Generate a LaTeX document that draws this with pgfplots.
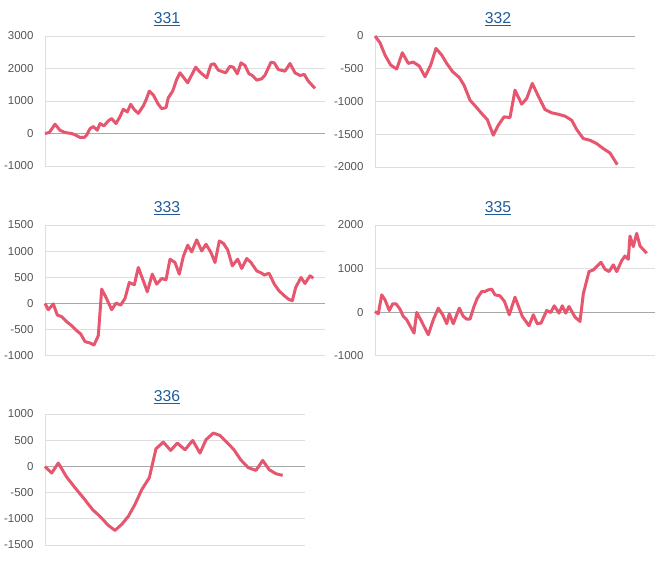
\documentclass[border=0pt]{standalone}
\usepackage{fontspec}
\setmainfont{Liberation Sans}
\usepackage{pgfplots}
\pgfplotsset{compat=1.18}
\definecolor{linecol}{HTML}{E6566F}
\definecolor{titlecol}{HTML}{1F5C99}
\definecolor{tickcol}{HTML}{555555}
\definecolor{gridcol}{HTML}{DEDEDE}
\definecolor{basecol}{HTML}{A8A8A8}
\pgfplotsset{
  small/.style={
    scale only axis,
    anchor=north west,
    clip=false,
    axis line style={draw=none},
    major tick length=0pt,
    ymajorgrids, xmajorgrids,
    grid style={draw=gridcol, line width=0.75pt},
    xticklabels={},
    extra y ticks={0},
    extra y tick labels={},
    extra y tick style={grid style={draw=basecol, line width=0.75pt}},
    /pgf/number format/assume math mode=true,
    /pgf/number format/1000 sep={},
    yticklabel style={font=\fontsize{8.6}{10}\selectfont, text=tickcol, inner sep=0pt},
    yticklabel shift=8.5pt,
    title style={font=\fontsize{11.8}{13}\selectfont, text=titlecol, anchor=base, yshift=3.5pt},
  },
  pl/.style={draw=linecol, line width=2.25pt, line join=round, no marks},
}
\begin{document}
\begin{tikzpicture}
\useasboundingbox (0,0) rectangle (498pt,-423.75pt);
% 331
\begin{axis}[small, at={(33.75pt,-27pt)}, width=210pt, height=97.5pt,
  xmin=45, xmax=325, xtick={45}, ymin=-1000, ymax=3000, ytick={-1000,0,1000,2000,3000},
  title={\underline{331}}, title style={at={(0.436,1)}}]
\addplot[pl] coordinates {
(45,0) (49.3,30) (55,285) (60,100) (65,30) (71.7,0) (75,-40) (80,-120) (84.3,-120)
(86.7,-50) (90,150) (93.3,215) (97.3,100) (100,305) (104,235) (108.3,390) (111.7,460)
(116,305) (120,520) (123.3,745) (127.3,665) (130.7,900) (134,745) (138.3,620) (143.3,850)
(146,1030) (149.3,1305) (153.3,1185) (158.3,900) (161.7,765) (166,795) (168.3,1100)
(172.7,1305) (176.7,1665) (180,1867) (187.7,1561) (195.7,2040) (200,1888) (206.7,1714)
(211,2122) (214.3,2143) (218.3,1949) (225.7,1867) (230,2071) (233.3,2040) (237.3,1837)
(241,2173) (245,2092) (249,1837) (252.3,1786) (256.7,1643) (261.7,1684) (265,1796)
(271,2194) (274.3,2173) (278.3,1969) (285,1918) (290,2153) (295,1867) (300,1786)
(304.3,1816) (308.3,1612) (315,1388)};
\end{axis}
% 332
\begin{axis}[small, at={(281.25pt,-27pt)}, width=195pt, height=98.25pt,
  xmin=375, xmax=635, xtick={375}, ymin=-2000, ymax=0, ytick={-2000,-1500,-1000,-500,0},
  title={\underline{332}}, title style={at={(0.473,1)}}]
\addplot[pl] coordinates {
(375,0) (380,-102) (385,-291) (390.7,-444) (396.7,-505) (402.3,-255) (408.3,-418)
(413.3,-398) (419.3,-459) (425,-622) (430.7,-444) (436,-189) (441.7,-291) (446.7,-418)
(452.7,-546) (459.3,-633) (464,-750) (470,-980) (476,-1082) (481.7,-1184) (487.3,-1276)
(493.3,-1515) (498.3,-1362) (504,-1235) (510,-1245) (515,-827) (521.7,-1041) (526.7,-954)
(532.3,-724) (538.3,-918) (545,-1122) (551.7,-1173) (558.3,-1194) (565,-1224)
(571.7,-1286) (576.7,-1428) (583.3,-1566) (590,-1592) (596.7,-1643) (603.3,-1719)
(610,-1786) (617.3,-1964)};
\end{axis}
% 333
\begin{axis}[small, at={(33.75pt,-168.75pt)}, width=210pt, height=98pt,
  xmin=45, xmax=325, xtick={45}, ymin=-1000, ymax=1500, ytick={-1000,-500,0,500,1000,1500},
  title={\underline{333}}, title style={at={(0.436,1)}}]
\addplot[pl] coordinates {
(45,0) (48.3,-121) (53.3,-10) (57.3,-223) (61.7,-254) (66.7,-350) (71.7,-426) (76,-509)
(80.7,-585) (85,-731) (90,-757) (94,-795) (98.3,-617) (101.7,273) (106,114) (111.7,-121)
(116,6) (120.7,-32) (125,95) (129.3,400) (134.3,356) (138.3,687) (142.7,464) (147.3,223)
(152.3,560) (156.7,369) (161.7,477) (166,451) (170,846) (175,782) (179.3,560) (183.3,897)
(187.7,1113) (191.7,986) (196.7,1215) (201.7,1005) (206,1132) (211,973) (215,782)
(219.3,1196) (223.3,1151) (227.7,1024) (232.3,719) (237.7,846) (241.7,668) (246.7,859)
(251,782) (256.7,623) (262.3,572) (264.3,541) (269,579) (274.3,369) (279,242) (284.3,146)
(288.3,83) (292.3,51) (295.7,305) (301,496) (305,382) (310,528) (313.3,483)};
\end{axis}
% 335
\begin{axis}[small, at={(281.25pt,-168.75pt)}, width=210pt, height=98pt,
  xmin=375, xmax=655, xtick={375}, ymin=-1000, ymax=2000, ytick={-1000,0,1000,2000},
  title={\underline{335}}, title style={at={(0.439,1)}}]
\addplot[pl] coordinates {
(375,15) (378.3,-38) (381.7,397) (385,282) (389.3,38) (392.7,191) (396,191) (400,69)
(403.3,-99) (406.7,-175) (410,-313) (414,-481) (416.7,-8) (420.7,-175) (424,-328)
(428.3,-519) (433.3,-175) (438.3,92) (442.7,-61) (446.7,-267) (449.3,-38) (453.3,-267)
(459.3,92) (463.3,-99) (466.7,-160) (470,-160) (474,130) (477.3,320) (481.7,473) (485,473)
(488.3,511) (491.7,526) (495,397) (500,374) (504.5,244) (509.3,-61) (515,343) (522.3,-99)
(529,-313) (533.3,-61) (537.3,-267) (541,-252) (546.7,38) (550.7,-8) (554.3,145)
(559,-23) (562.3,145) (565.7,-23) (569,130) (575,-114) (580,-214) (583.3,420) (589,931)
(593.3,969) (596.7,1045) (601,1145) (605,984) (609,931) (613.3,1084) (616.7,931)
(621.7,1183) (625,1289) (628.3,1213) (630,1747) (633.3,1503) (636.7,1808) (640,1518)
(646.7,1351)};
\end{axis}
% 336
\begin{axis}[small, at={(33.75pt,-310.5pt)}, width=195pt, height=98.25pt,
  xmin=45, xmax=305, xtick={45}, ymin=-1500, ymax=1000, ytick={-1500,-1000,-500,0,500,1000},
  title={\underline{336}}, title style={at={(0.469,1)}}]
\addplot[pl] coordinates {
(45,0) (51.7,-127) (58.3,64) (66.7,-204) (75,-407) (83.3,-598) (92.7,-827) (100,-954)
(108.3,-1126) (115,-1221) (121.7,-1107) (128.3,-954) (135,-725) (141.7,-445) (149.3,-216)
(156,337) (163.3,464) (170.7,305) (177.3,445) (185,318) (192.7,496) (200,254) (206,509)
(213.3,636) (220,591) (226.7,464) (234,318) (240.7,127) (248.3,-25) (256,-76) (262.7,114)
(269.3,-64) (276,-140) (282.7,-172)};
\end{axis}
\end{tikzpicture}
\end{document}
